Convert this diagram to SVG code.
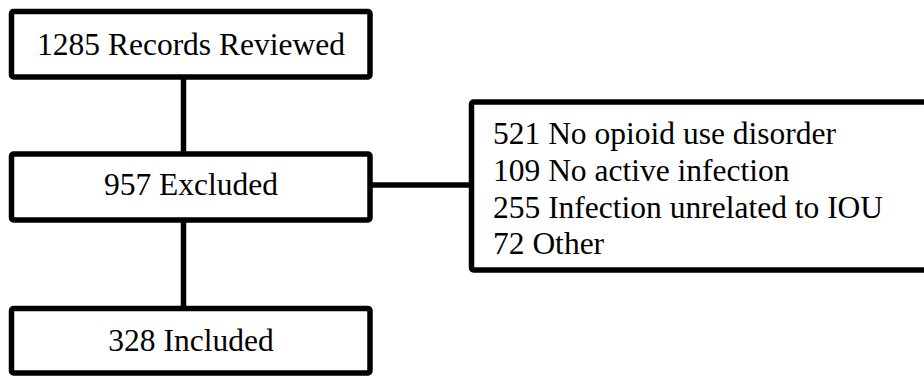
<svg xmlns="http://www.w3.org/2000/svg" width="924" height="378" viewBox="0 0 924 378">
<style>
.box{fill:#fff;stroke:#000;stroke-width:5.5;stroke-linejoin:round}
.ln{stroke:#000;stroke-width:5.5;fill:none}
text{font-family:"Liberation Serif","Times New Roman",serif;font-size:31.5px;fill:#000}
.c{text-anchor:middle}
</style>
<rect width="924" height="378" fill="#fff"/>
<g id="connectors">
<line class="ln" x1="183.5" y1="77" x2="183.5" y2="154"/>
<line class="ln" x1="183.5" y1="220" x2="183.5" y2="308.5"/>
<line class="ln" x1="370" y1="185" x2="471.5" y2="185"/>
</g>
<g id="n1">
<rect class="box" x="11.5" y="11.5" width="358.5" height="65.5" rx="2"/>
<text class="c" x="191" y="54.5">1285 Records Reviewed</text>
</g>
<g id="n2">
<rect class="box" x="11.5" y="154" width="358.5" height="66" rx="2"/>
<text class="c" x="191" y="195">957 Excluded</text>
</g>
<g id="n3">
<rect class="box" x="471.5" y="102" width="470" height="168" rx="2"/>
<text x="493" y="143.5">521 No opioid use disorder</text>
<text x="493" y="180.5">109 No active infection</text>
<text x="493" y="217.5">255 Infection unrelated to IOU</text>
<text x="493" y="253.5">72 Other</text>
</g>
<g id="n4">
<rect class="box" x="11.5" y="308.5" width="358.5" height="64.5" rx="2"/>
<text class="c" x="191" y="350.5">328 Included</text>
</g>
</svg>
